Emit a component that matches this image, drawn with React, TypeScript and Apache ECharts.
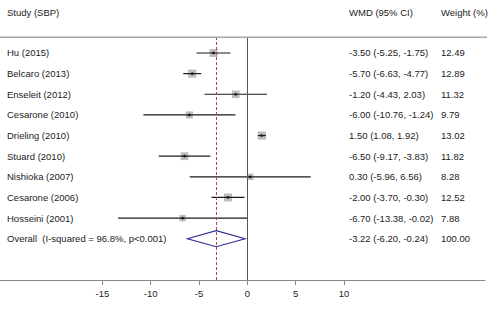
import React, { useEffect, useRef } from "react";
import * as echarts from "echarts";

const studies = [
  "Hu (2015)",
  "Belcaro (2013)",
  "Enseleit (2012)",
  "Cesarone (2010)",
  "Drieling (2010)",
  "Stuard (2010)",
  "Nishioka (2007)",
  "Cesarone (2006)",
  "Hosseini (2001)",
  "Overall  (I-squared = 96.8%, p<0.001)",
];
const wmd = [-3.5, -5.7, -1.2, -6.0, 1.5, -6.5, 0.3, -2.0, -6.7, -3.22];
const lower = [-5.25, -6.63, -4.43, -10.76, 1.08, -9.17, -5.96, -3.7, -13.38, -6.2];
const upper = [-1.75, -4.77, 2.03, -1.24, 1.92, -3.83, 6.56, -0.3, -0.02, -0.24];
const weights = ["12.49", "12.89", "11.32", "9.79", "13.02", "11.82", "8.28", "12.52", "7.88", "100.00"];
const tickValues = [-15, -10, -5, 0, 5, 10];
const pooled = -3.22;

const FONT = "Liberation Sans, Arial, sans-serif";
const fmt = (v: number) => v.toFixed(2);

export default function App() {
  const ref = useRef<HTMLDivElement>(null);
  useEffect(() => {
    document.body.style.margin = "0";
    const chart = echarts.init(ref.current!, null, { renderer: "svg" });
    const data = studies.map((s, i) => [wmd[i], lower[i], upper[i], i, parseFloat(weights[i])]);
    const overallIdx = studies.length - 1;
    chart.setOption({
      animation: false,
      grid: { left: 0, top: 37, width: 485, height: 243, containLabel: false },
      xAxis: {
        type: "value",
        min: -25.6,
        max: 24.6,
        axisLine: { show: true, onZero: false, lineStyle: { color: "#8a8a8a", width: 1 } },
        axisTick: { show: true, length: 5, customValues: tickValues, lineStyle: { color: "#8a8a8a" } },
        axisLabel: { show: true, customValues: tickValues, margin: 8, fontSize: 9.5, color: "#222", fontFamily: FONT },
        splitLine: { show: false },
      },
      yAxis: { type: "value", min: -0.775, max: 11, inverse: true, show: false },
      graphic: [
        { type: "rect", z: 100, shape: { x: 0, y: 36.5, width: 487, height: 1.5 }, style: { fill: "#a8a8a8" } },
        { type: "text", x: 7, y: 12, style: { text: "Study (SBP)", fontSize: 9.5, fill: "#222", fontFamily: FONT, verticalAlign: "middle" } },
        { type: "text", x: 349, y: 12, style: { text: "WMD (95% CI)", fontSize: 9.5, fill: "#222", fontFamily: FONT, verticalAlign: "middle" } },
        { type: "text", x: 441, y: 12, style: { text: "Weight (%)", fontSize: 9.5, fill: "#222", fontFamily: FONT, verticalAlign: "middle" } },
      ],
      series: [
        {
          type: "scatter",
          data: [],
          markLine: {
            silent: true,
            symbol: ["none", "none"],
            label: { show: false },
            data: [
              { yAxis: -0.75, lineStyle: { color: "#a8a8a8", width: 1.2, type: "solid" } },
              { xAxis: 0, lineStyle: { color: "#555", width: 1, type: "solid" } },
              { xAxis: pooled, lineStyle: { color: "#b9433a", width: 1, type: [3, 2] } },
            ],
          },
        },
        {
          type: "custom",
          encode: { x: [0, 1, 2], y: 3 },
          data,
          clip: false,
          renderItem: (params: any, api: any) => {
            const idx = api.value(3);
            const m = api.coord([api.value(0), idx]);
            const lo = api.coord([api.value(1), idx]);
            const hi = api.coord([api.value(2), idx]);
            const y = m[1];
            const w = api.value(4);
            const children: any[] = [];
            const textStyle = { fontSize: 9.5, fill: "#222", fontFamily: FONT, verticalAlign: "middle" };
            children.push({ type: "text", style: { ...textStyle, text: studies[idx], x: 7, y } });
            children.push({
              type: "text",
              style: { ...textStyle, text: `${fmt(wmd[idx])} (${fmt(lower[idx])}, ${fmt(upper[idx])})`, x: 349, y },
            });
            children.push({ type: "text", style: { ...textStyle, text: weights[idx], x: 441, y } });
            if (idx === overallIdx) {
              children.push({
                type: "polygon",
                shape: { points: [[lo[0], y], [m[0], y - 8], [hi[0], y], [m[0], y + 8]] },
                style: { fill: "none", stroke: "#2e2e8c", lineWidth: 1.2 },
              });
            } else {
              const side = 2.26 * Math.sqrt(w);
              children.push({
                type: "rect",
                shape: { x: m[0] - side / 2, y: y - side / 2, width: side, height: side },
                style: { fill: "#bdbdbd" },
              });
              children.push({
                type: "line",
                shape: { x1: lo[0], y1: y, x2: hi[0], y2: y },
                style: { stroke: "#1a1a1a", lineWidth: 1.2 },
              });
              children.push({
                type: "circle",
                shape: { cx: m[0], cy: y, r: 1.3 },
                style: { fill: "#111" },
              });
            }
            return { type: "group", children };
          },
        },
      ],
    });
    return () => chart.dispose();
  }, []);
  return <div ref={ref} style={{ width: 490, height: 309 }} />;
}
